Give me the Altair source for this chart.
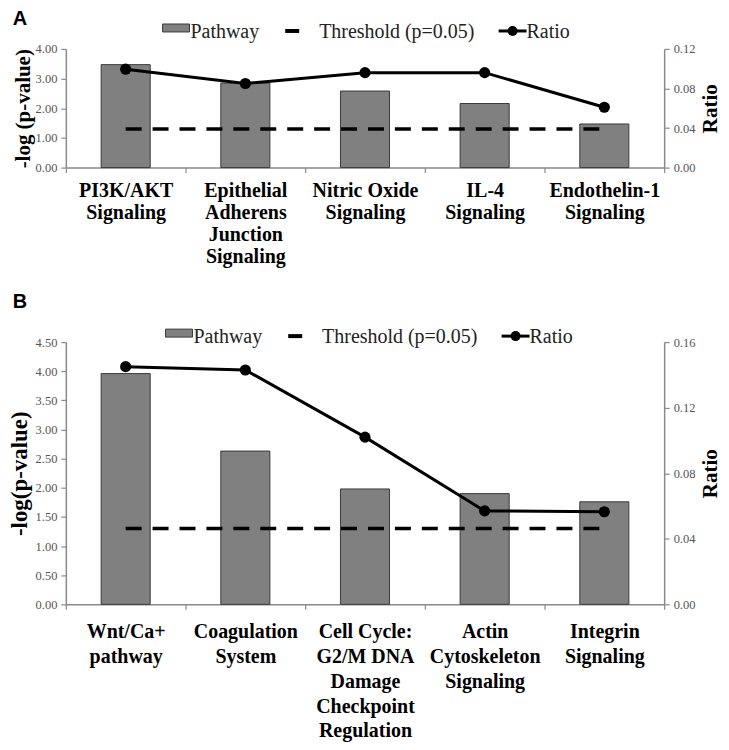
import altair as alt
import pandas as pd

# ---------------- data ----------------
cats_a = ["PI3K/AKT\nSignaling", "Epithelial\nAdherens\nJunction\nSignaling",
          "Nitric Oxide\nSignaling", "IL-4\nSignaling", "Endothelin-1\nSignaling"]
pathway_a = [3.47, 2.85, 2.58, 2.16, 1.47]
ratio_a = [0.0995, 0.085, 0.096, 0.096, 0.061]

cats_b = ["Wnt/Ca+\npathway", "Coagulation\nSystem",
          "Cell Cycle:\nG2/M DNA\nDamage\nCheckpoint\nRegulation",
          "Actin\nCytoskeleton\nSignaling", "Integrin\nSignaling"]
pathway_b = [3.96, 2.63, 1.98, 1.90, 1.76]
ratio_b = [0.145, 0.143, 0.102, 0.057, 0.0565]

threshold = 1.3  # -log10(0.05)

left_ticks_a = [0, 1, 2, 3, 4]
right_ticks_a = [0, 0.04, 0.08, 0.12]
left_ticks_b = [0, 0.5, 1, 1.5, 2, 2.5, 3, 3.5, 4, 4.5]
right_ticks_b = [0, 0.04, 0.08, 0.12, 0.16]

legend_labels = ["Pathway", "Threshold (p=0.05)", "Ratio"]

SERIF = "Liberation Serif"
SANS = "Liberation Sans"
BAR_FILL = "#808080"
BAR_STROKE = "#3a3a3a"
AXIS_GRAY = "#8a8a8a"


def panel(letter, cats, path, ratio, lticks, rticks, height, ytitle,
          line_h, lab_pad, leg_y, leg_dx, letter_y, ytitle_size, ytitle_pad):
    one = pd.DataFrame({"k": [0]})
    df = pd.DataFrame({"cat": cats, "val": path})
    dft = pd.DataFrame({"cat": cats, "val": [threshold] * len(cats)})
    dfr = pd.DataFrame({"cat": cats, "ratio": ratio})

    x_enc = alt.X(
        "cat:N",
        scale=alt.Scale(domain=cats, paddingInner=0, paddingOuter=0),
        axis=alt.Axis(
            title=None, labelAngle=0, labelExpr="split(datum.label, '\\n')",
            labelFont=SERIF, labelFontSize=20, labelFontWeight="bold",
            labelColor="black", labelLineHeight=line_h, labelPadding=lab_pad,
            labelLimit=300, tickBand="extent", ticks=True, tickSize=5,
            domainColor=AXIS_GRAY, tickColor=AXIS_GRAY, domainWidth=1.5,
            tickWidth=1.2,
        ),
    )
    y_axis = alt.Axis(
        values=lticks, format=".2f", title=ytitle, grid=False,
        labelFont=SERIF, labelFontSize=12.5, labelColor="#555555",
        labelPadding=4, tickSize=5, tickColor=AXIS_GRAY, domainColor=AXIS_GRAY,
        domainWidth=1.5, tickWidth=1.2,
        titleFont=SERIF, titleFontSize=ytitle_size, titleFontWeight="bold",
        titleColor="black", titlePadding=ytitle_pad,
    )
    y_scale = alt.Scale(domain=[lticks[0], lticks[-1]], nice=False)

    bars = alt.Chart(df).mark_bar(
        width=alt.RelativeBandSize(0.41), fill=BAR_FILL, stroke=BAR_STROKE,
        strokeWidth=1,
    ).encode(x=x_enc, y=alt.Y("val:Q", scale=y_scale, axis=y_axis))

    thresh = alt.Chart(dft).mark_line(
        color="black", strokeWidth=3.5, strokeDash=[16, 11],
    ).encode(x=x_enc, y=alt.Y("val:Q", scale=y_scale, axis=y_axis))

    r_axis = alt.Axis(
        values=rticks, format=".2f", title="Ratio", orient="right", grid=False,
        labelFont=SERIF, labelFontSize=12.5, labelColor="#555555",
        labelPadding=4, tickSize=5, tickColor=AXIS_GRAY, domainColor=AXIS_GRAY,
        domainWidth=1.5, tickWidth=1.2,
        titleFont=SERIF, titleFontSize=21, titleFontWeight="bold",
        titleColor="black", titleAngle=270, titleBaseline="top", titlePadding=5,
    )
    ratio_line = alt.Chart(dfr).mark_line(
        color="black", strokeWidth=3,
        point=alt.OverlayMarkDef(filled=True, size=125, color="black", opacity=1),
    ).encode(
        x=x_enc,
        y=alt.Y("ratio:Q", scale=alt.Scale(domain=[rticks[0], rticks[-1]], nice=False),
                axis=r_axis),
    )

    # hand-drawn legend (decoration)
    dx = leg_dx
    base1 = alt.Chart(one)
    leg_box = base1.mark_rect(fill=BAR_FILL, stroke=BAR_STROKE, strokeWidth=1).encode(
        x=alt.value(97 + dx), x2=alt.value(124 + dx),
        y=alt.value(leg_y - 8), y2=alt.value(leg_y))
    txt_kw = dict(align="left", baseline="middle", font=SERIF, fontSize=20,
                  color="#222222")
    leg_t1 = base1.mark_text(**txt_kw).encode(
        x=alt.value(125 + dx), y=alt.value(leg_y), text=alt.value(legend_labels[0]))
    leg_dash = base1.mark_rule(color="black", strokeWidth=4).encode(
        x=alt.value(220 + dx), x2=alt.value(234 + dx), y=alt.value(leg_y - 1))
    leg_t2 = base1.mark_text(**txt_kw).encode(
        x=alt.value(254 + dx), y=alt.value(leg_y), text=alt.value(legend_labels[1]))
    leg_line = base1.mark_rule(color="black", strokeWidth=3).encode(
        x=alt.value(434 + dx), x2=alt.value(462 + dx), y=alt.value(leg_y - 1))
    leg_pt = base1.mark_point(filled=True, size=100, color="black", opacity=1).encode(
        x=alt.value(448 + dx), y=alt.value(leg_y - 1))
    leg_t3 = base1.mark_text(**txt_kw).encode(
        x=alt.value(462 + dx), y=alt.value(leg_y), text=alt.value(legend_labels[2]))
    letter_t = base1.mark_text(font=SANS, fontWeight="bold", fontSize=20,
                               align="center", baseline="middle", color="black").encode(
        x=alt.value(-46), y=alt.value(letter_y), text=alt.value(letter))

    return alt.layer(
        alt.layer(bars, thresh), ratio_line,
        leg_box, leg_t1, leg_dash, leg_t2, leg_line, leg_pt, leg_t3, letter_t,
    ).resolve_scale(y="independent").properties(width=600, height=height)


panel_a = panel("A", cats_a, pathway_a, ratio_a, left_ticks_a, right_ticks_a,
                119, "-log (p-value)", 22, 8, -17, 0, -30, 21, 2)
panel_b = panel("B", cats_b, pathway_b, ratio_b, left_ticks_b, right_ticks_b,
                263, "-log(p-value)", 25, 12, -5, 3, -40, 23, 4)

chart = alt.vconcat(panel_a, panel_b, spacing=26).properties(
    padding={"left": 0, "top": 0, "right": 0, "bottom": 0}
).configure_view(stroke=None)

chart.save("out.html", embed_options={"renderer": "svg", "actions": False})
